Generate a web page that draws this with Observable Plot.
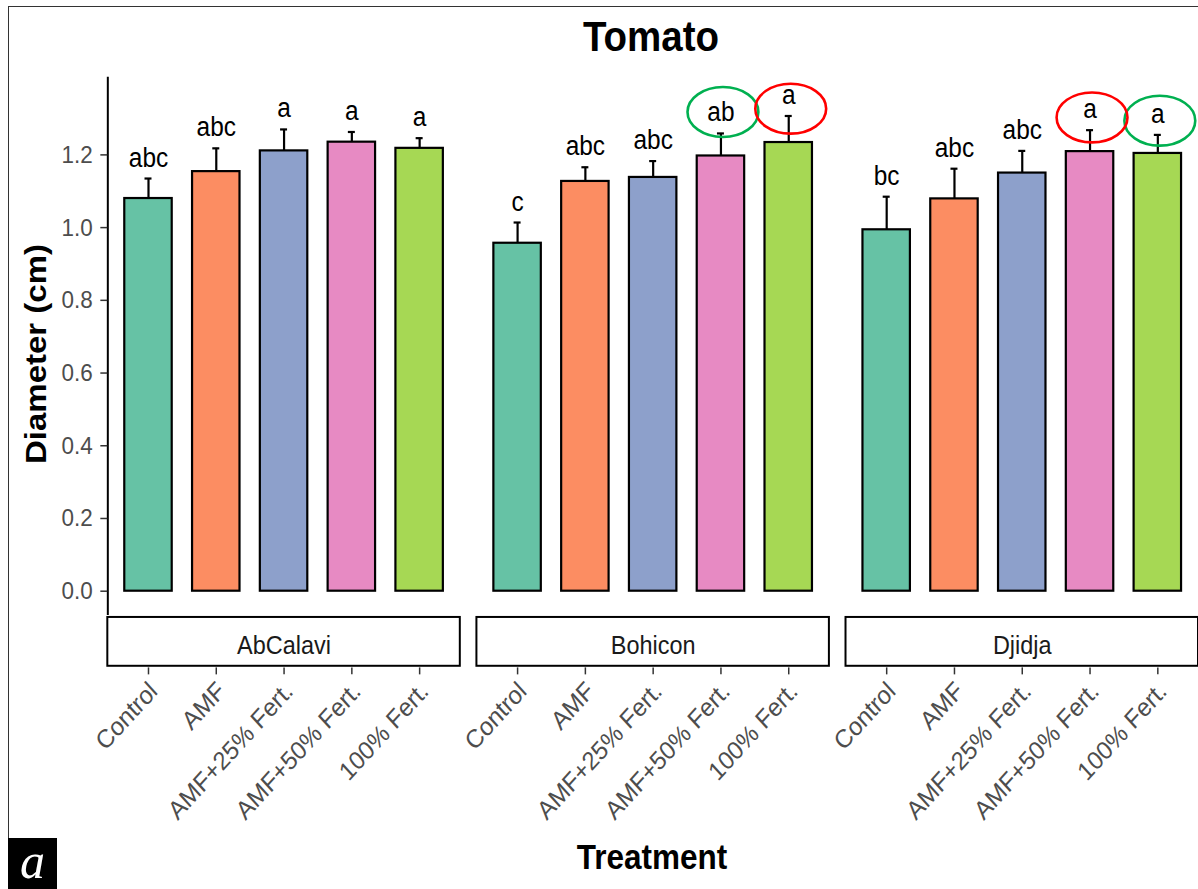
<!DOCTYPE html>
<html>
<head>
<meta charset="utf-8">
<script src="https://cdn.jsdelivr.net/npm/d3@7"></script>
<script src="https://cdn.jsdelivr.net/npm/@observablehq/plot@0.6"></script>
<style>
  html, body { margin: 0; padding: 0; background: #fff; overflow: hidden; }
  #wrap { position: relative; width: 1198px; height: 889px; overflow: hidden; font-family: "Liberation Sans", Arial, sans-serif; background: #fff; }
  #outer { position: absolute; left: 8px; top: 6px; width: 1400px; height: 1000px; border: 1.4px solid #333; box-sizing: border-box; }
  #chart { position: absolute; left: 0; top: 0; }
  #title { position: absolute; left: 451px; width: 400px; top: 19px; text-align: center; font-weight: bold; font-size: 38.5px; line-height: 1; color: #000; transform: scaleY(1.1); transform-origin: 200px 32px; }
  #xlab { position: absolute; left: 452px; width: 400px; top: 843px; text-align: center; font-weight: bold; font-size: 31.5px; line-height: 1; color: #000; transform: scaleY(1.1); transform-origin: 200px 27px; }
  #ylab { position: absolute; left: -164px; width: 400px; top: 339px; text-align: center; font-weight: bold; font-size: 30px; line-height: 1; color: #000; transform: scaleY(1.1) rotate(-90deg); transform-origin: 200px 15px; }
  #panel { position: absolute; left: 8px; top: 838px; width: 49px; height: 51px; background: #000; color: #fff; font-family: "Liberation Serif", "DejaVu Serif", serif; font-style: italic; font-size: 50px; line-height: 46px; text-align: center; }
</style>
</head>
<body>
<div id="wrap">
  <div id="outer"></div>
  <div id="chart"></div>
  <div id="title">Tomato</div>
  <div id="ylab">Diameter (cm)</div>
  <div id="xlab">Treatment</div>
  <div id="panel">a</div>
</div>
<script>
// ---- data ----
const sites = ["AbCalavi", "Bohicon", "Djidja"];
const treatments = ["Control", "AMF", "AMF+25% Fert.", "AMF+50% Fert.", "100% Fert."];
const fillColors = ["#66C2A5", "#FC8D62", "#8DA0CB", "#E78AC3", "#A6D854"];

const meanAbCalavi = [1.080, 1.154, 1.211, 1.235, 1.218];
const seAbCalavi   = [0.055, 0.064, 0.059, 0.028, 0.028];
const lettersAbCalavi = ["abc", "abc", "a", "a", "a"];

const meanBohicon = [0.957, 1.127, 1.138, 1.197, 1.234];
const seBohicon   = [0.057, 0.039, 0.045, 0.062, 0.073];
const lettersBohicon = ["c", "abc", "abc", "ab", "a"];

const meanDjidja = [0.994, 1.079, 1.150, 1.209, 1.204];
const seDjidja   = [0.091, 0.083, 0.061, 0.059, 0.051];
const lettersDjidja = ["bc", "abc", "abc", "a", "a"];

const yTicks = [0.0, 0.2, 0.4, 0.6, 0.8, 1.0, 1.2];

// circled letters (annotation rings), centre height in data units
const ringSites = ["Bohicon", "Bohicon", "Djidja", "Djidja"];
const ringTreatments = ["AMF+50% Fert.", "100% Fert.", "AMF+50% Fert.", "100% Fert."];
const ringColors = ["green", "red", "red", "green"];
const ringY = [1.318, 1.327, 1.303, 1.294];

// ---- build table ----
const means = [meanAbCalavi, meanBohicon, meanDjidja];
const ses = [seAbCalavi, seBohicon, seDjidja];
const letters = [lettersAbCalavi, lettersBohicon, lettersDjidja];
const data = sites.flatMap((s, i) => treatments.map((t, j) => ({
  site: s, treatment: t, mean: means[i][j], se: ses[i][j], letter: letters[i][j]
})));
const rings = ringSites.map((s, k) => ({site: s, treatment: ringTreatments[k], ring: ringColors[k], y: ringY[k]}));
const errTop = d => d.mean + d.se;

// ---- layout ----
const W = 1200, H = 889;
const mL = 107.5, mR = 0, mT = 77, mB = 220.5;
const fxPad = 0.045;
const fxStep = (W - mL - mR) / (3 - fxPad);
const fxBw = fxStep * (1 - fxPad);
const xStep = fxBw / 5.2;
const xBw = xStep * 0.7;
const capW = 7;

const ellipse = {
  draw(context, size) {
    const r = Math.sqrt(size / Math.PI);
    const rx = r * 1.42, ry = r, k = 0.5523;
    context.moveTo(rx, 0);
    context.bezierCurveTo(rx, ry * k, rx * k, ry, 0, ry);
    context.bezierCurveTo(-rx * k, ry, -rx, ry * k, -rx, 0);
    context.bezierCurveTo(-rx, -ry * k, -rx * k, -ry, 0, -ry);
    context.bezierCurveTo(rx * k, -ry, rx, -ry * k, rx, 0);
    context.closePath();
  }
};

const chart = Plot.plot({
  width: W,
  height: H,
  marginLeft: mL,
  marginRight: mR,
  marginTop: mT,
  marginBottom: mB,
  style: { fontFamily: "'Liberation Sans', Arial, sans-serif", background: "transparent", overflow: "visible" },
  fx: { domain: sites, paddingInner: fxPad, paddingOuter: 0, round: false, axis: null, label: null },
  x: { domain: treatments, paddingInner: 0.3, paddingOuter: 0.25, round: false, axis: null, label: null },
  y: { domain: [-0.2109, 1.4132], axis: null, label: null },
  color: { domain: treatments, range: fillColors },
  marks: [
    // y axis line (left panel only)
    Plot.ruleX([data[0]], { fx: "site", x: "treatment", y1: -0.0667, y2: 1.4132, dx: -0.6 * xStep, stroke: "#000", strokeWidth: 2 }),
    Plot.axisY({ ticks: yTicks, tickFormat: d3.format(".1f"), tickSize: 7, tickPadding: 8, fontSize: 22.5, stroke: "#333", fill: "#4d4d4d", strokeWidth: 1.5, label: null }),
    // facet strips at the bottom
    Plot.rect(sites, { fx: d => d, y1: -0.0722, y2: -0.2065, fill: "white", stroke: "#000", strokeWidth: 2 }),
    Plot.text(sites, { fx: d => d, y: -0.15, text: d => d, frameAnchor: "middle", fontSize: 23.5, fill: "#1a1a1a" }),
    // x axis: tick marks, then rotated labels
    Plot.axisX({ tickSize: 7, tickFormat: () => "", stroke: "#333", strokeWidth: 1.5, label: null }),
    Plot.axisX({ tickRotate: -45, tickSize: 0, tickPadding: 19, dx: 5, fontSize: 23.5, fill: "#4d4d4d", label: null }),
    // bars
    Plot.barY(data, { fx: "site", x: "treatment", y: "mean", fill: "treatment", stroke: "#000", strokeWidth: 2.2 }),
    // error bars (upper only)
    Plot.ruleX(data, { fx: "site", x: "treatment", y1: "mean", y2: errTop, stroke: "#000", strokeWidth: 2.2 }),
    Plot.tickY(data, { fx: "site", x: "treatment", y: errTop, stroke: "#000", strokeWidth: 2.2, insetLeft: (xBw - capW) / 2, insetRight: (xBw - capW) / 2 }),
    // significance letters
    Plot.text(data, { fx: "site", x: "treatment", y: errTop, text: "letter", lineAnchor: "bottom", dy: -12, fontSize: 24.5, fill: "#000" }),
    // annotation rings
    Plot.dot(rings.filter(d => d.ring === "green"), { fx: "site", x: "treatment", y: "y", dx: 2, r: 25, symbol: ellipse, fill: "none", stroke: "#00B050", strokeWidth: 2.6 }),
    Plot.dot(rings.filter(d => d.ring === "red"), { fx: "site", x: "treatment", y: "y", dx: 2, r: 25, symbol: ellipse, fill: "none", stroke: "#FF0000", strokeWidth: 2.6 })
  ]
});

// The reference figure is stretched vertically (~1.1x); stretch glyphs the same way around their anchors.
const stretch = "scale(1,1.1)";
chart.querySelectorAll("text").forEach(t => {
  const tr = t.getAttribute("transform");
  if (tr) {
    const m = tr.match(/^\s*translate\(([^)]*)\)(.*)$/);
    if (m) t.setAttribute("transform", `translate(${m[1]}) ${stretch}${m[2]}`);
    else t.setAttribute("transform", `${stretch} ${tr}`);
  } else {
    const x = +(t.getAttribute("x") || 0), y = +(t.getAttribute("y") || 0);
    if (!isNaN(x) && !isNaN(y)) {
      t.removeAttribute("x"); t.removeAttribute("y");
      t.setAttribute("transform", `translate(${x},${y}) ${stretch}`);
    }
  }
});
document.getElementById("chart").appendChild(chart);
</script>
</body>
</html>
